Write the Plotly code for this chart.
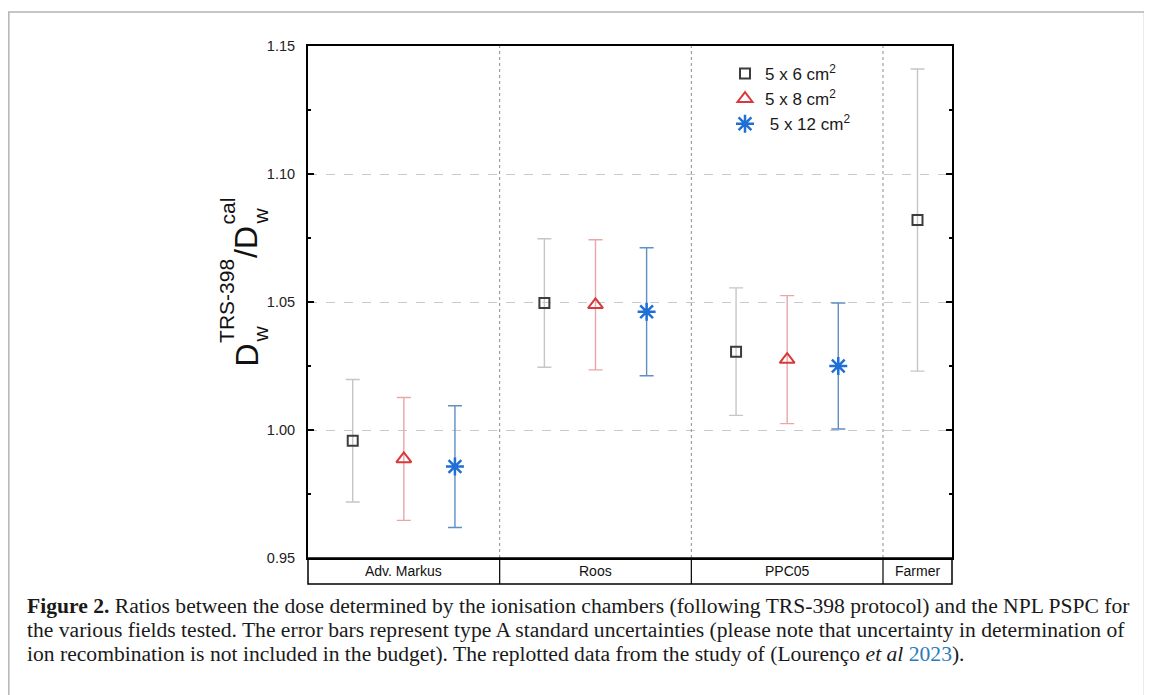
import plotly.graph_objects as go

# ---------------- data ----------------
chambers = ["Adv. Markus", "Roos", "PPC05", "Farmer"]
field_labels = ["5 x 6 cm<sup>2</sup>", "5 x 8 cm<sup>2</sup>", "&nbsp;5 x 12 cm<sup>2</sup>"]

ratio_5x6 = [0.9958, 1.0496, 1.0306, 1.0820]
err_5x6 = [0.0239, 0.0251, 0.0249, 0.0590]
ratio_5x8 = [0.9887, 1.0489, 1.0275]
err_5x8 = [0.0240, 0.0254, 0.0250]
ratio_5x12 = [0.9857, 1.0462, 1.0250]
err_5x12 = [0.0238, 0.0250, 0.0246]

y_ticks = [0.95, 1.00, 1.05, 1.10, 1.15]
y_ticktext = ["0.95", "1.00", "1.05", "1.10", "1.15"]

# group layout on a numeric x axis (chamber blocks)
group_edges = [0, 3.75, 7.5, 11.25, 12.6]
group_centers = [(group_edges[i] + group_edges[i + 1]) / 2 for i in range(len(chambers))]
offsets = [-1, 0, 1]

# ---------------- geometry helpers (page coordinates) ----------------
PAGE_OFF = 8                 # browser body margin
W, H = 1144, 687             # figure size
L, R, T, B = 308, 952, 46, 558   # plot area in page pixels


def px(x):
    return (x - L) / (R - L)


def py(y):
    return (B - y) / (B - T)


FONT = "Arial, Liberation Sans, sans-serif"

fig = go.Figure()

x_5x6 = [group_centers[i] + (offsets[0] if i < 3 else 0) for i in range(4)]
x_5x8 = [group_centers[i] + offsets[1] for i in range(3)]
x_5x12 = [group_centers[i] + offsets[2] for i in range(3)]

fig.add_trace(go.Scatter(
    x=x_5x6, y=ratio_5x6, mode="markers", name=field_labels[0],
    marker=dict(symbol="square-open", size=10, color="#3c3c3c", line=dict(width=2, color="#3c3c3c")),
    error_y=dict(type="data", array=err_5x6, visible=True, color="#c6c6c6", thickness=1.4, width=7),
))
fig.add_trace(go.Scatter(
    x=x_5x8, y=ratio_5x8, mode="markers", name=field_labels[1],
    marker=dict(symbol="triangle-up-open", size=13, color="#d8393b", line=dict(width=2, color="#d8393b")),
    error_y=dict(type="data", array=err_5x8, visible=True, color="#e7a7a7", thickness=1.4, width=7),
))
fig.add_trace(go.Scatter(
    x=x_5x12, y=ratio_5x12, mode="markers", name=field_labels[2],
    marker=dict(symbol="asterisk-open", size=15, color="#1f6fd6", line=dict(width=2.5, color="#1f6fd6")),
    error_y=dict(type="data", array=err_5x12, visible=True, color="#5f8fc4", thickness=1.4, width=7),
))

shapes = []
# outer figure border
shapes.append(dict(type="rect", xref="paper", yref="paper", x0=px(8.8), x1=px(1144.5), y0=py(720), y1=py(12),
                   line=dict(color="#b4b4b4", width=1.5), layer="below"))
# dotted dividers in plot
for b in group_edges[1:-1]:
    shapes.append(dict(type="line", xref="x", yref="paper", x0=b, x1=b, y0=0, y1=1,
                       line=dict(color="#8c8c8c", width=1, dash="dot")))
# category band below plot
band_bottom = py(584)
shapes.append(dict(type="rect", xref="paper", yref="paper", x0=0, x1=1, y0=band_bottom, y1=0,
                   line=dict(color="black", width=1.5)))
for b in group_edges[1:-1]:
    shapes.append(dict(type="line", xref="x", yref="paper", x0=b, x1=b, y0=band_bottom, y1=0,
                       line=dict(color="black", width=1.2)))

annotations = []
for c, name in zip(group_centers, chambers):
    annotations.append(dict(x=c, xref="x", y=py(571), yref="paper", text=name, showarrow=False,
                            font=dict(family=FONT, size=14, color="#111"), xanchor="center", yanchor="middle"))

# y-axis title built from pieces (stacked sub/superscripts)
arial_w = {"D": .722, "w": .722, "T": .611, "R": .722, "S": .667, "-": .333, "3": .556, "9": .556,
           "8": .556, "/": .278, "c": .5, "a": .556, "l": .222}


def tw(s, size):
    return sum(arial_w[ch] for ch in s) * size


big, small = 32, 21
x_base, x_sup, x_sub = 246, 227, 260
ycur = 368
for base, sub, sup in [("D", "w", "TRS-398"), ("/D", "w", "cal")]:
    annotations.append(dict(x=px(x_base), y=py(ycur), xref="paper", yref="paper", text=base, showarrow=False,
                            textangle=-90, xanchor="center", yanchor="bottom", borderpad=0,
                            font=dict(family=FONT, size=big, color="#111")))
    ycur -= tw(base, big) + 1
    annotations.append(dict(x=px(x_sub), y=py(ycur), xref="paper", yref="paper", text=sub, showarrow=False,
                            textangle=-90, xanchor="center", yanchor="bottom", borderpad=0,
                            font=dict(family=FONT, size=small, color="#111")))
    annotations.append(dict(x=px(x_sup), y=py(ycur), xref="paper", yref="paper", text=sup, showarrow=False,
                            textangle=-90, xanchor="center", yanchor="bottom", borderpad=0,
                            font=dict(family=FONT, size=small, color="#111")))
    ycur -= max(tw(sub, small), tw(sup, small)) + 1

# caption
caption_lines = [
    "<b>Figure 2.</b> Ratios between the dose determined by the ionisation chambers (following TRS-398 protocol) and the NPL PSPC for",
    "the various fields tested. The error bars represent type A standard uncertainties (please note that uncertainty in determination of",
    "ion recombination is not included in the budget). The replotted data from the study of (Lourenço <i>et al</i> "
    "<span style='color:#2b7bbb'>2023</span>).",
]
for i, line in enumerate(caption_lines):
    annotations.append(dict(x=px(25), y=py(606 + 24 * i), xref="paper", yref="paper", text=line, showarrow=False,
                            xanchor="left", yanchor="middle", align="left",
                            font=dict(family="Liberation Serif, Times New Roman, serif", size=21.6, color="#1a1a1a")))

fig.update_layout(
    width=W, height=H,
    margin=dict(l=L - PAGE_OFF, r=PAGE_OFF + W - R, t=T - PAGE_OFF, b=PAGE_OFF + H - B),
    paper_bgcolor="white", plot_bgcolor="white",
    shapes=shapes, annotations=annotations,
    showlegend=True,
    legend=dict(x=px(725), y=py(56), xanchor="left", yanchor="top", bgcolor="rgba(0,0,0,0)",
                font=dict(family=FONT, size=17, color="#1a1a1a"), itemwidth=30),
    xaxis=dict(range=[group_edges[0], group_edges[-1]], showgrid=False, zeroline=False, showticklabels=False,
               ticks="", showline=True, mirror=True, linecolor="black", linewidth=1.5),
    yaxis=dict(range=[0.95, 1.15], tickvals=y_ticks, ticktext=y_ticktext, ticks="inside", ticklen=6,
               tickwidth=1.5, tickcolor="black", showline=True, linewidth=2, linecolor="black", mirror="allticks",
               showgrid=True, gridcolor="#c9c9c9", griddash="dash", gridwidth=1, zeroline=False,
               tickfont=dict(family=FONT, size=14.5, color="#222"), ticklabelstandoff=8,
               minor=dict(ticks="inside", ticklen=3, tickcolor="black", dtick=0.025, tick0=0.95, showgrid=False)),
)

fig.write_html("out.html")
